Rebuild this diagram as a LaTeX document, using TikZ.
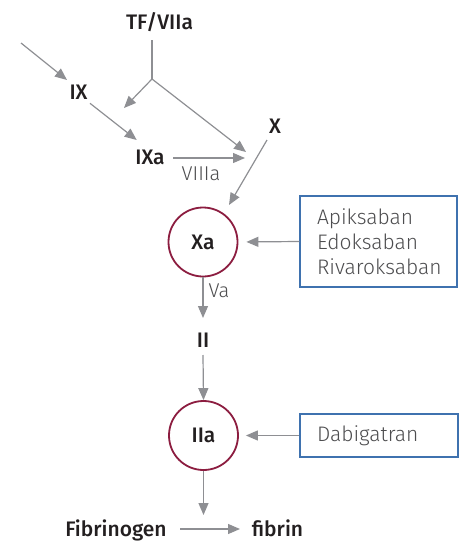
\documentclass[tikz,border=0pt]{standalone}
\usepackage{fontspec}
\setmainfont{Fira Sans}
\newfontfamily\medfont{Fira Sans Medium}
\newfontfamily\lightfont{Fira Sans Light}
\usetikzlibrary{arrows.meta}
\definecolor{linegray}{HTML}{8E8F93}
\definecolor{ringred}{HTML}{8C1D40}
\definecolor{boxblue}{HTML}{3F72AF}
\definecolor{inkdark}{HTML}{231F20}
\definecolor{inkgray}{HTML}{4D4D4F}
\begin{document}
\begin{tikzpicture}[x=1pt,y=-1pt,
  lbl/.style={font=\medfont\fontsize{21}{24}\selectfont, text=inkdark, inner sep=0pt, anchor=base},
  cof/.style={font=\lightfont\fontsize{20}{22}\selectfont, text=inkgray, inner sep=0pt, anchor=base},
  drugbox/.style={draw=boxblue, line width=1.5pt, inner xsep=17pt, inner ysep=0pt,
    font=\lightfont\fontsize{21}{25}\selectfont, text=inkgray, align=left},
  ring/.style={circle, draw=ringred, line width=1.8pt, minimum size=69pt, inner sep=0pt,
    font=\medfont\fontsize{21}{24}\selectfont, text=inkdark},
  link/.style={draw=linegray, line width=1.2pt},
  conn/.style={link, -{Triangle[length=12pt,width=10pt]}}]
\useasboundingbox (0,0) rectangle (465,541);

% labels of the cascade
\node[lbl] (TF) at (159.5,29) {TF/VIIa};
\node[lbl] (IX) at (78.5,99) {IX};
\node[lbl] (IXa) at (150,164) {IXa};
\node[lbl] (X) at (275,133) {X};
\node[cof] (VIIIa) at (201,180) {VIIIa};
\node[ring] (Xa) at (203,242) {Xa};
\node[cof] (Va) at (219,297) {Va};
\node[lbl] (II) at (203,347) {II};
\node[ring] (IIa) at (203.5,435.5) {IIa};
\node[lbl] (fibrinogen) at (116,536) {Fibrinogen};
\node[lbl] (fibrin) at (277.5,536) {fibrin};

% inhibitor boxes
\node[drugbox, text width=123pt, minimum height=91pt] (anti10) at (378.5,241.5)
  {Apiksaban\\Edoksaban\\Rivaroksaban};
\node[drugbox, text width=124pt, minimum height=43pt] (anti2) at (379,435.5) {Dabigatran};

% connector end points
\coordinate (inTail) at (21,43);
\coordinate (inTip) at (67,80);
\coordinate (tfTop) at (152,40);
\coordinate (tfFork) at (152,79);
\coordinate (forkIX) at (124,108);
\coordinate (forkX) at (246,152);
\coordinate (ixTail) at (90,103.3);
\coordinate (ixTip) at (136.7,140);
\coordinate (ixaTail) at (173,158);
\coordinate (ixaTip) at (245,158);
\coordinate (xTail) at (267,140);
\coordinate (xTip) at (229,205);
\coordinate (fgTail) at (180,529);
\coordinate (fgTip) at (240,529);
\coordinate (iiaTip) at (203.5,515);

% connectors
\draw[conn] (inTail) -- (inTip);
\draw[link] (tfTop) -- (tfFork);
\draw[conn] (tfFork) -- (forkIX);
\draw[conn] (tfFork) -- (forkX);
\draw[conn] (ixTail) -- (ixTip);
\draw[conn] (ixaTail) -- (ixaTip);
\draw[conn] (xTail) -- (xTip);
\draw[conn, shorten >=8pt] (anti10.west) -- (Xa.east);
\draw[conn] (Xa.south) -- (Xa.south |- 0,318);
\draw[conn] (Xa.south |- 0,355) -- (IIa.north);
\draw[conn, shorten >=7pt] (anti2.west) -- (IIa.east);
\draw[conn] (IIa.south) -- (iiaTip);
\draw[conn] (fgTail) -- (fgTip);
\end{tikzpicture}
\end{document}
